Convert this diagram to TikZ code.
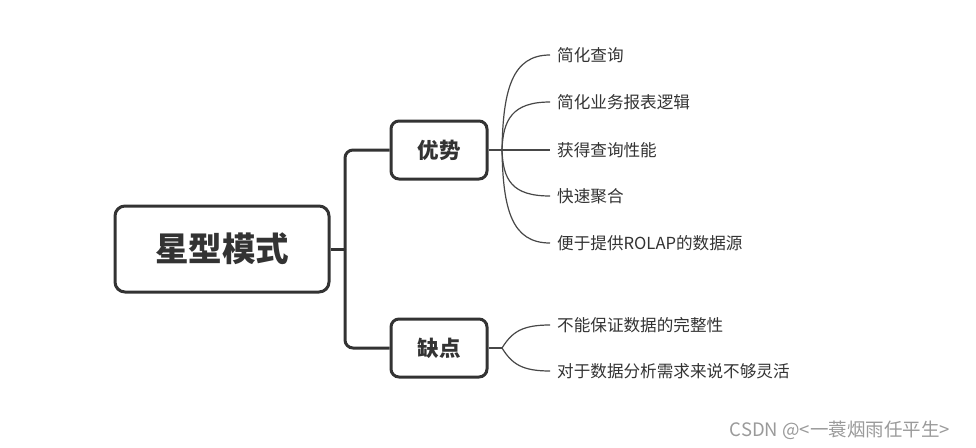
\documentclass[tikz,border=0pt]{standalone}
\usepackage{fontspec}
\setmainfont{Noto Sans CJK SC}
\definecolor{ink}{HTML}{333333}
\definecolor{wm}{HTML}{9A9A9A}
\tikzset{
  rootbox/.style={draw=ink, line width=3pt, rounded corners=10pt, text=ink, font=\fontsize{33.5}{33.5}\selectfont\bfseries, minimum width=214pt, minimum height=86pt, inner sep=0pt},
  midbox/.style={draw=ink, line width=3pt, rounded corners=8pt, text=ink, font=\fontsize{21.5}{21.5}\selectfont\bfseries, minimum width=96pt, minimum height=58pt, inner sep=0pt},
  trunk/.style={draw=ink, line width=3pt, rounded corners=8pt},
  twig/.style={draw=ink!90, line width=1.2pt},
  leaf/.style={anchor=west, text=ink, font=\fontsize{16.6}{16.6}\selectfont, inner xsep=7pt, inner ysep=2pt},
}
\begin{document}
\begin{tikzpicture}[x=1pt,y=-1pt]
\useasboundingbox (0,0) rectangle (976,447);
\node[rootbox] (root) at (222,249) {星型模式};
\node[midbox] (ys) at (439,150) {优势};
\node[midbox] (qd) at (439,348) {缺点};
\coordinate (j) at (345,249);
\draw[trunk] (root.east) -- (j);
\draw[trunk] (ys.west) -| (j);
\draw[trunk] (qd.west) -| (j);

\node[leaf] (a1) at (550,55) {简化查询};
\node[leaf] (a2) at (550,102) {简化业务报表逻辑};
\node[leaf] (a3) at (550,150) {获得查询性能};
\node[leaf] (a4) at (550,196) {快速聚合};
\node[leaf] (a5) at (550,243) {便于提供ROLAP的数据源};
\coordinate (fa) at (502,150);
\draw[twig] (ys.east) -- (fa);
\draw[twig] (fa) .. controls (503,90) and (512,55) .. (a1.west);
\draw[twig] (fa) .. controls (503,120) and (512,102) .. (a2.west);
\draw[twig] (fa) -- (a3.west);
\draw[twig] (fa) .. controls (503,180) and (512,196) .. (a4.west);
\draw[twig] (fa) .. controls (503,210) and (512,243) .. (a5.west);

\node[leaf] (b1) at (550,325) {不能保证数据的完整性};
\node[leaf] (b2) at (550,371) {对于数据分析需求来说不够灵活};
\coordinate (fb) at (502,348);
\draw[twig] (qd.east) -- (fb);
\draw[twig] (fb) .. controls (512,332) and (522,325) .. (b1.west);
\draw[twig] (fb) .. controls (512,364) and (522,371) .. (b2.west);

\node[text=wm, font=\fontsize{18.5}{18.5}\selectfont, anchor=east, inner sep=0pt] (wmk) at (950,430) {CSDN @<一蓑烟雨任平生>};
\end{tikzpicture}
\end{document}
